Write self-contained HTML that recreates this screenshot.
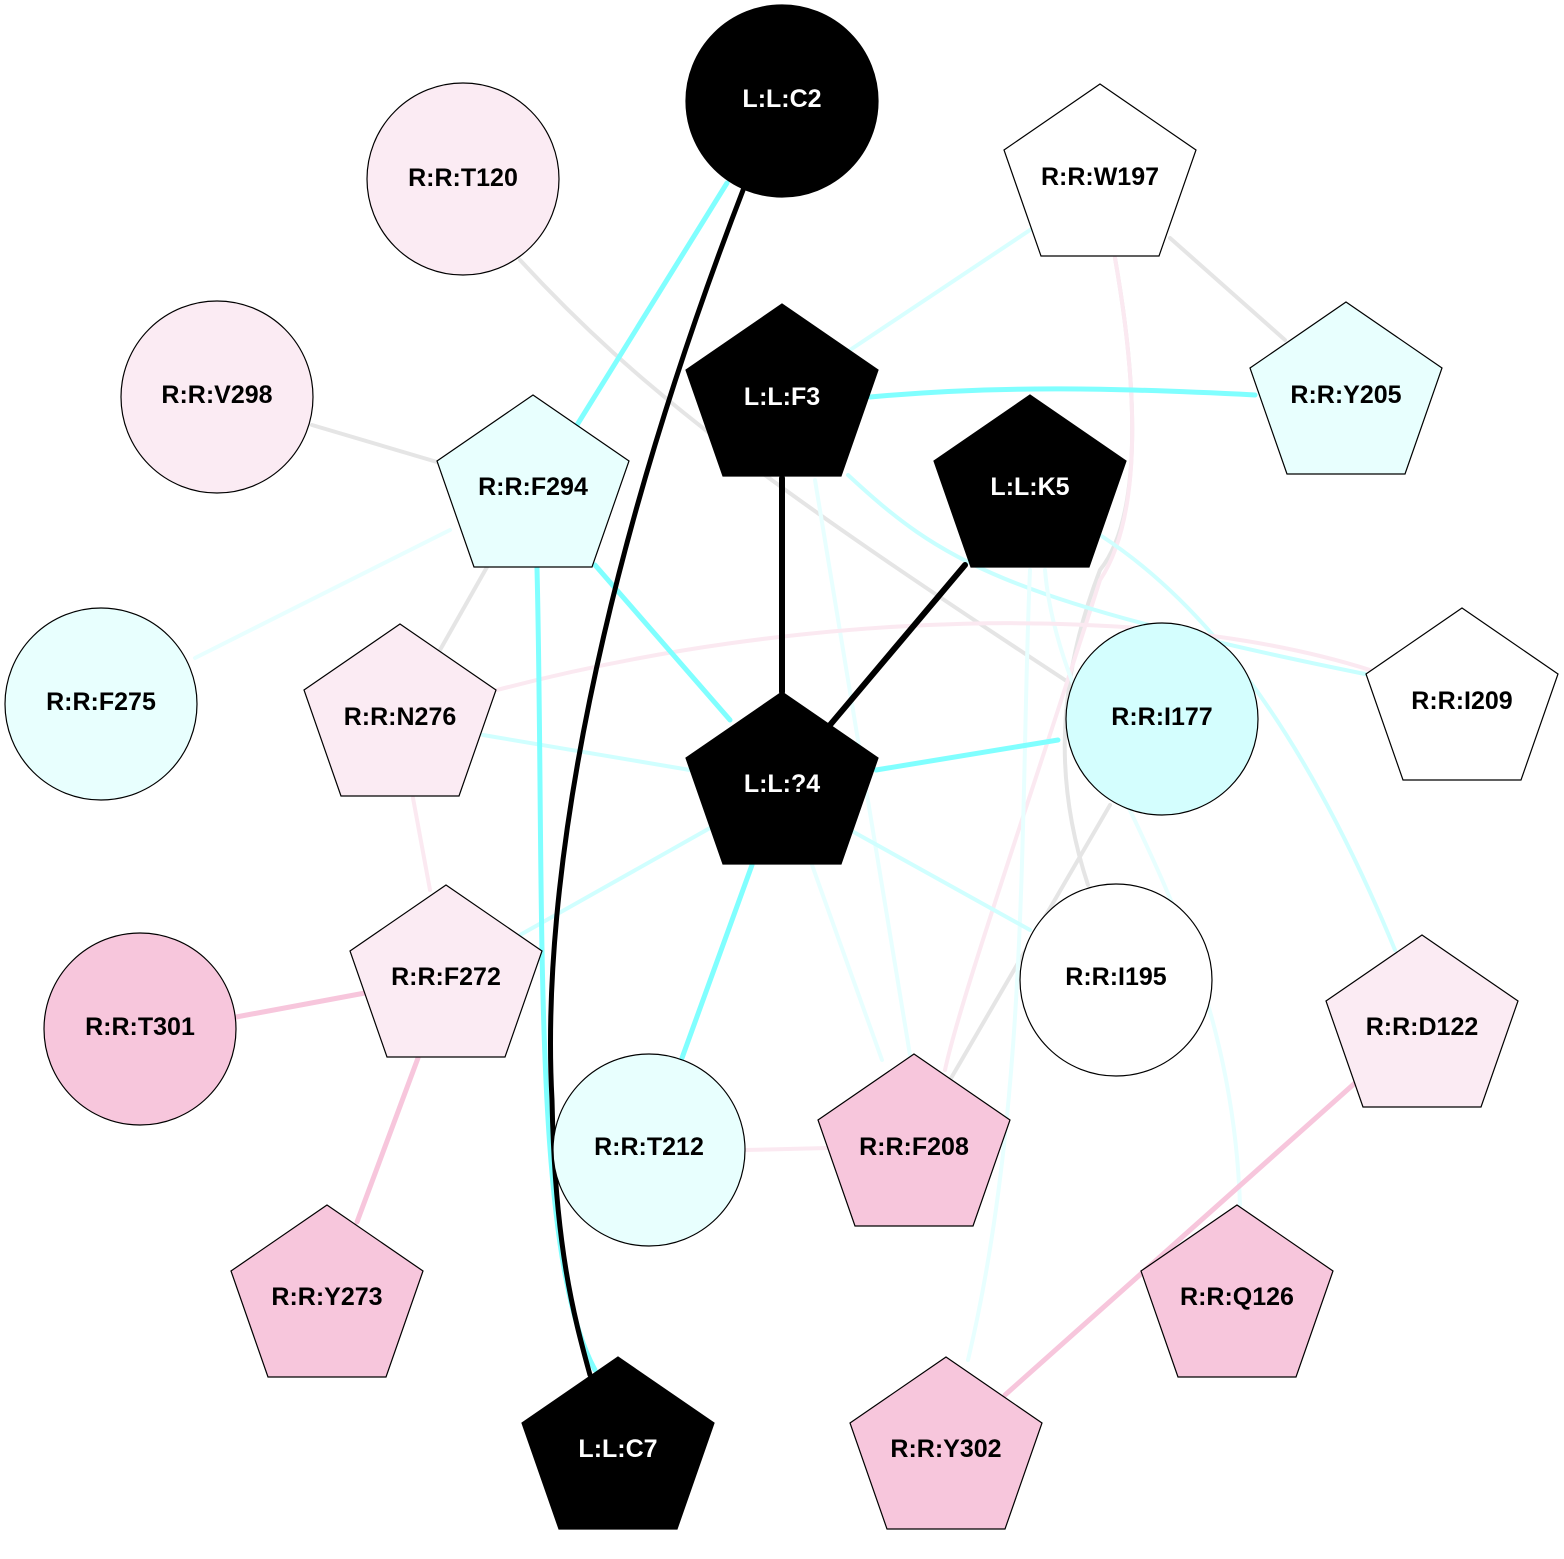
<!DOCTYPE html>
<html><head><meta charset="utf-8"><style>
html,body{margin:0;padding:0;background:#fff;}
svg text{font-family:"Liberation Sans",Arial,sans-serif;font-weight:bold;font-size:25px;text-anchor:middle;dominant-baseline:central;}
</style></head><body>
<svg width="1564" height="1554" viewBox="0 0 1564 1554" xmlns="http://www.w3.org/2000/svg">
<g fill="none" stroke-linecap="round">
<path d="M520,260 C640,390 760,480 1068,682" stroke="#e5e5e5" stroke-width="4"/>
<path d="M1115,258 C1140,400 1140,520 1100,570 C1050,700 1060,800 1088,885" stroke="#e5e5e5" stroke-width="4"/>
<path d="M1115,258 C1140,400 1140,520 1100,580 C1030,800 960,1000 945,1070" stroke="#fbe9f1" stroke-width="4"/>
<line x1="1170" y1="238" x2="1285" y2="340" stroke="#e5e5e5" stroke-width="4"/>
<line x1="950" y1="1080" x2="1110" y2="805" stroke="#e5e5e5" stroke-width="4"/>
<line x1="312" y1="425" x2="437" y2="462" stroke="#e5e5e5" stroke-width="4"/>
<line x1="487" y1="567" x2="440" y2="650" stroke="#e5e5e5" stroke-width="4"/>
<line x1="1030" y1="230" x2="850" y2="350" stroke="#d8ffff" stroke-width="4"/>
<path d="M848,475 C940,560 1000,600 1370,675" stroke="#c8ffff" stroke-width="4"/>
<line x1="815" y1="480" x2="910" y2="1055" stroke="#e8ffff" stroke-width="4"/>
<path d="M1100,535 C1200,600 1300,720 1395,950" stroke="#d0ffff" stroke-width="4"/>
<path d="M1030,570 C1020,800 1030,1100 968,1360" stroke="#e8ffff" stroke-width="4"/>
<path d="M1045,570 C1060,750 1230,900 1240,1205" stroke="#e8ffff" stroke-width="4"/>
<path d="M497,690 C800,610 1150,600 1370,670" stroke="#fbe9f1" stroke-width="4"/>
<line x1="483" y1="735" x2="690" y2="770" stroke="#d0ffff" stroke-width="4"/>
<line x1="195" y1="658" x2="450" y2="530" stroke="#e8ffff" stroke-width="4"/>
<line x1="710" y1="828" x2="520" y2="935" stroke="#d0ffff" stroke-width="4"/>
<line x1="812" y1="865" x2="882" y2="1060" stroke="#e8ffff" stroke-width="4"/>
<line x1="850" y1="830" x2="1030" y2="930" stroke="#d0ffff" stroke-width="4"/>
<line x1="413" y1="798" x2="430" y2="890" stroke="#fbe9f1" stroke-width="4"/>
<line x1="745" y1="1150" x2="828" y2="1148" stroke="#fbe9f1" stroke-width="4"/>
<line x1="236" y1="1017" x2="365" y2="993" stroke="#f7c6dc" stroke-width="5"/>
<line x1="418" y1="1058" x2="357" y2="1222" stroke="#f7c6dc" stroke-width="5"/>
<line x1="1355" y1="1083" x2="1005" y2="1395" stroke="#f7c6dc" stroke-width="5"/>
<line x1="727" y1="183" x2="577" y2="425" stroke="#80ffff" stroke-width="5"/>
<path d="M870,397 C1000,385 1120,388 1255,395" stroke="#80ffff" stroke-width="5"/>
<line x1="1058" y1="740" x2="876" y2="770" stroke="#80ffff" stroke-width="5"/>
<line x1="595" y1="565" x2="730" y2="720" stroke="#80ffff" stroke-width="5"/>
<path d="M537,568 C545,900 530,1250 595,1370" stroke="#80ffff" stroke-width="5"/>
<line x1="752" y1="865" x2="682" y2="1058" stroke="#80ffff" stroke-width="5"/>
<path d="M745,185 C600,560 540,880 552,1100 C555,1250 575,1320 590,1375" stroke="#000" stroke-width="5"/>
<line x1="782" y1="478" x2="782" y2="692" stroke="#000" stroke-width="6"/>
<line x1="965" y1="565" x2="830" y2="725" stroke="#000" stroke-width="6"/>
</g>
<g stroke="#000" stroke-width="1.2">
<circle cx="782" cy="101" r="96" fill="#000"/>
<circle cx="463" cy="179" r="96" fill="#fbebf3"/>
<circle cx="217" cy="397" r="96" fill="#fbebf3"/>
<circle cx="101" cy="704" r="96" fill="#e8fffe"/>
<circle cx="1162" cy="719" r="96" fill="#d4fefe"/>
<circle cx="140" cy="1029" r="96" fill="#f7c6dc"/>
<circle cx="1116" cy="980" r="96" fill="#fff"/>
<circle cx="649" cy="1150" r="96" fill="#e8fffe"/>
</g>
<g stroke="#000" stroke-width="1.2">
<polygon points="1100,84 1196,150 1159,256 1041,256 1004,150" fill="#fff"/>
<polygon points="533,395 629,461 592,567 474,567 437,461" fill="#e8fffe"/>
<polygon points="782,304 878,370 841,476 723,476 686,370" fill="#000"/>
<polygon points="1346,302 1442,368 1405,474 1287,474 1250,368" fill="#e8fffe"/>
<polygon points="1030,395 1126,461 1089,567 971,567 934,461" fill="#000"/>
<polygon points="400,624 496,690 459,796 341,796 304,690" fill="#fbebf3"/>
<polygon points="782,692 878,758 841,864 723,864 686,758" fill="#000"/>
<polygon points="1462,608 1558,674 1521,780 1403,780 1366,674" fill="#fff"/>
<polygon points="446,885 542,951 505,1057 387,1057 350,951" fill="#fbebf3"/>
<polygon points="1422,935 1518,1001 1481,1107 1363,1107 1326,1001" fill="#fbebf3"/>
<polygon points="914,1054 1010,1120 973,1226 855,1226 818,1120" fill="#f7c6dc"/>
<polygon points="327,1205 423,1271 386,1377 268,1377 231,1271" fill="#f7c6dc"/>
<polygon points="1237,1205 1333,1271 1296,1377 1178,1377 1141,1271" fill="#f7c6dc"/>
<polygon points="618,1357 714,1423 677,1529 559,1529 522,1423" fill="#000"/>
<polygon points="946,1357 1042,1423 1005,1529 887,1529 850,1423" fill="#f7c6dc"/>
</g>
<g fill="#000">
<text x="782" y="99" fill="#fff">L:L:C2</text>
<text x="463" y="178">R:R:T120</text>
<text x="1100" y="177">R:R:W197</text>
<text x="217" y="395">R:R:V298</text>
<text x="533" y="487">R:R:F294</text>
<text x="782" y="397" fill="#fff">L:L:F3</text>
<text x="1346" y="395">R:R:Y205</text>
<text x="1030" y="487" fill="#fff">L:L:K5</text>
<text x="101" y="702">R:R:F275</text>
<text x="400" y="717">R:R:N276</text>
<text x="782" y="784" fill="#fff">L:L:?4</text>
<text x="1162" y="717">R:R:I177</text>
<text x="1462" y="701">R:R:I209</text>
<text x="446" y="977">R:R:F272</text>
<text x="140" y="1027">R:R:T301</text>
<text x="1116" y="977">R:R:I195</text>
<text x="1422" y="1027">R:R:D122</text>
<text x="649" y="1147">R:R:T212</text>
<text x="914" y="1147">R:R:F208</text>
<text x="327" y="1297">R:R:Y273</text>
<text x="1237" y="1297">R:R:Q126</text>
<text x="618" y="1449" fill="#fff">L:L:C7</text>
<text x="946" y="1449">R:R:Y302</text>
</g>
</svg>
</body></html>
